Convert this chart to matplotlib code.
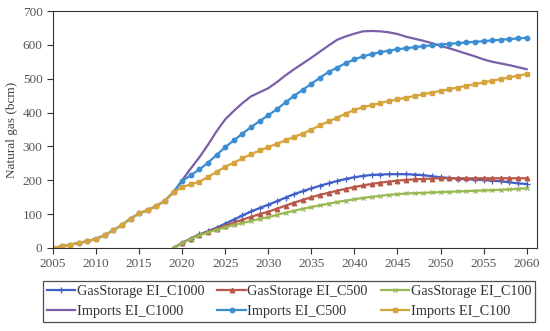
import numpy as np
import matplotlib
matplotlib.use("Agg")
import matplotlib.pyplot as plt

plt.rcParams['font.family'] = ['Liberation Serif', 'DejaVu Serif']

years_imp = list(range(2005, 2061))
years_gs = list(range(2019, 2061))

common = [0, 5, 10, 15, 20, 27, 38, 52, 68, 87, 102, 112, 124, 140, 165]

imp_c1000 = common + [200, 235, 268, 305, 345, 380, 405, 428, 448, 460, 472,
                      490, 510, 528, 545, 562, 580, 598, 615, 625, 633,
                      640, 641, 640, 637, 632, 624, 618, 612, 605, 597,
                      590, 582, 574, 566, 557, 550, 545, 540, 534, 528]
imp_c500 = common + [198, 215, 232, 252, 275, 298, 318, 338, 357, 375, 392,
                     410, 430, 450, 467, 485, 503, 520, 533, 546, 557,
                     566, 573, 578, 583, 587, 590, 593, 596, 599, 601,
                     603, 605, 607, 609, 611, 613, 615, 617, 619, 621]
imp_c100 = common + [180, 188, 196, 210, 225, 240, 252, 265, 277, 288, 298,
                     308, 318, 328, 338, 350, 362, 374, 385, 397, 408,
                     416, 422, 428, 434, 439, 444, 449, 454, 459, 464,
                     469, 474, 479, 484, 489, 494, 499, 504, 509, 514]

gs_c1000 = [0, 15, 28, 40, 50, 60, 72, 84, 96, 108, 118, 128,
            138, 149, 159, 168, 176, 184, 191, 198, 204, 209,
            213, 216, 217, 218, 218, 218, 217, 215, 212, 209,
            207, 205, 203, 202, 201, 199, 197, 194, 191, 189]
gs_c500 = [0, 15, 28, 39, 48, 57, 66, 75, 84, 92, 100, 107,
           116, 125, 134, 142, 150, 157, 163, 169, 175, 180,
           185, 189, 193, 196, 199, 201, 203, 204, 205, 206,
           206, 206, 206, 206, 206, 206, 206, 206, 206, 206]
gs_c100 = [0, 14, 27, 37, 46, 54, 61, 68, 74, 80, 86, 91,
           98, 104, 110, 116, 121, 126, 131, 136, 140, 144,
           148, 151, 154, 157, 159, 161, 162, 163, 164, 165,
           166, 167, 168, 169, 170, 171, 172, 173, 175, 176]

labels = ["GasStorage EI_C1000", "GasStorage EI_C500", "GasStorage EI_C100",
          "Imports EI_C1000", "Imports EI_C500", "Imports EI_C100"]

fig = plt.figure(figsize=(5.5, 3.31), dpi=100)
ax = fig.add_axes([53/550, 1-248/331, 484/550, 237/331])

h = []
h += ax.plot(years_gs, gs_c1000, color='#3f5fc8', lw=1.6, marker='+', ms=4.5, mew=0.9, label=labels[0])
h += ax.plot(years_gs, gs_c500, color='#b9584a', lw=1.6, marker='^', ms=3.2, label=labels[1])
h += ax.plot(years_gs, gs_c100, color='#97b952', lw=1.6, marker='x', ms=3.2, mew=0.9, label=labels[2])
h += ax.plot(years_imp, imp_c1000, color='#7b5ea8', lw=1.6, label=labels[3])
h += ax.plot(years_imp, imp_c500, color='#3b8ed2', lw=1.6, marker='o', ms=3.2, label=labels[4])
h += ax.plot(years_imp, imp_c100, color='#d6a43c', lw=1.6, marker='s', ms=2.3, label=labels[5])

ax.set_xlim(2005, 2061.2)
ax.set_ylim(0, 700)
ax.set_xticks(range(2005, 2061, 5))
ax.set_yticks(range(0, 701, 100))
ax.tick_params(axis='both', direction='out', length=4, width=0.8, labelsize=9.5,
               labelcolor='#555555', color='#333333')
for s in ax.spines.values():
    s.set_linewidth(0.8)
    s.set_color('#333333')
ax.set_ylabel("Natural gas (bcm)", fontsize=9.5, color='#444444', labelpad=3)

order = [0, 3, 1, 4, 2, 5]
leg = fig.legend([h[i] for i in order], [labels[i] for i in order],
                 loc='center', bbox_to_anchor=(289/550, 1-301.5/331), ncol=3,
                 fontsize=10.3, frameon=True, fancybox=False, edgecolor='#222222',
                 handlelength=2.0, handletextpad=0.1, columnspacing=0.9,
                 labelspacing=0.45, borderpad=0.3)
leg.get_frame().set_linewidth(0.9)
for t in leg.get_texts():
    t.set_color('#333333')

fig.savefig("out.png", dpi=100)
